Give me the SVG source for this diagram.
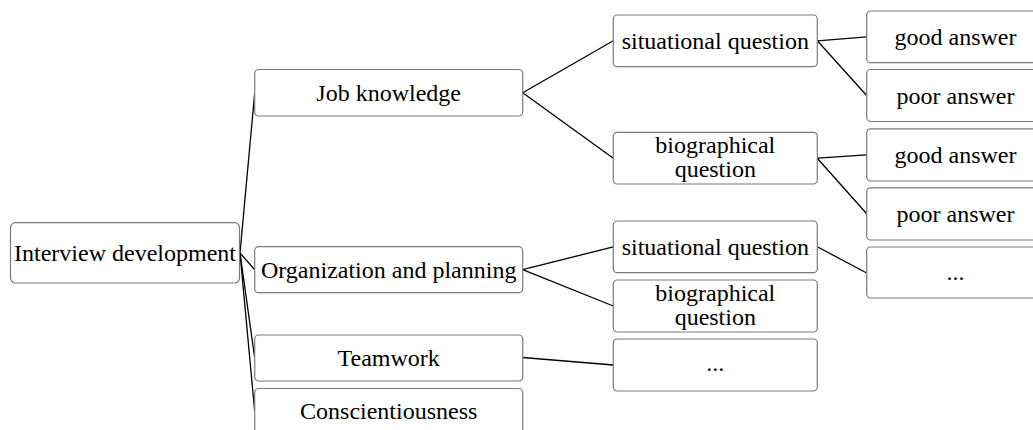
<svg xmlns="http://www.w3.org/2000/svg" width="1033" height="430" viewBox="0 0 1033 430">
  <style>
    .box { fill: #ffffff; stroke: #7a7a7a; stroke-width: 1.2; }
    .lbl { font-size: 24px; fill: #000000; text-anchor: middle; }
    .link { stroke: #000000; stroke-width: 1.3; fill: none; }
  </style>
  <rect width="1033" height="430" fill="#ffffff"/>

  <!-- connectors -->
  <g id="connectors">
    <line class="link" x1="240" y1="253" x2="254.7" y2="93"/>
    <line class="link" x1="240" y1="253" x2="254.7" y2="269.7"/>
    <line class="link" x1="240" y1="253" x2="254.7" y2="358"/>
    <line class="link" x1="240" y1="253" x2="254.7" y2="411.5"/>

    <line class="link" x1="522.7" y1="92.7" x2="613.3" y2="40.8"/>
    <line class="link" x1="522.7" y1="92.7" x2="613.3" y2="158.2"/>
    <line class="link" x1="522.7" y1="269.7" x2="613.3" y2="246.8"/>
    <line class="link" x1="522.7" y1="269.7" x2="613.3" y2="306"/>
    <line class="link" x1="522.7" y1="357.5" x2="613.3" y2="365"/>

    <line class="link" x1="817.3" y1="40.8" x2="866.7" y2="36.8"/>
    <line class="link" x1="817.3" y1="40.8" x2="866.7" y2="95.5"/>
    <line class="link" x1="817.3" y1="158.2" x2="866.7" y2="154.8"/>
    <line class="link" x1="817.3" y1="158.2" x2="866.7" y2="213.8"/>
    <line class="link" x1="817.3" y1="246.8" x2="866.7" y2="273"/>
  </g>

  <g font-family="Liberation Serif, DejaVu Serif, serif">
  <!-- root -->
  <g id="interview-development">
    <rect class="box" x="10.5" y="222.7" width="229" height="60.3" rx="5"/>
    <text class="lbl" x="125" y="260.5">Interview development</text>
  </g>

  <!-- competencies -->
  <g id="job-knowledge">
    <rect class="box" x="254.7" y="69.5" width="268" height="46.5" rx="4"/>
    <text class="lbl" x="388.7" y="100.5">Job knowledge</text>
  </g>
  <g id="organization-planning">
    <rect class="box" x="254.7" y="246.7" width="268" height="46" rx="4"/>
    <text class="lbl" x="388.7" y="277.5">Organization and planning</text>
  </g>
  <g id="teamwork">
    <rect class="box" x="254.7" y="335" width="268" height="46" rx="4"/>
    <text class="lbl" x="388.7" y="366">Teamwork</text>
  </g>
  <g id="conscientiousness">
    <rect class="box" x="254.7" y="388.5" width="268" height="46.5" rx="4"/>
    <text class="lbl" x="388.7" y="419">Conscientiousness</text>
  </g>

  <!-- question types -->
  <g id="situational-1">
    <rect class="box" x="613.3" y="15" width="204" height="51.7" rx="4"/>
    <text class="lbl" x="715.3" y="48.5">situational question</text>
  </g>
  <g id="biographical-1">
    <rect class="box" x="613.3" y="132.3" width="204" height="51.7" rx="4"/>
    <text class="lbl" x="715.3" y="152.5">biographical</text>
    <text class="lbl" x="715.3" y="176.5">question</text>
  </g>
  <g id="situational-2">
    <rect class="box" x="613.3" y="221" width="204" height="51.7" rx="4"/>
    <text class="lbl" x="715.3" y="254.5">situational question</text>
  </g>
  <g id="biographical-2">
    <rect class="box" x="613.3" y="280" width="204" height="52" rx="4"/>
    <text class="lbl" x="715.3" y="300.5">biographical</text>
    <text class="lbl" x="715.3" y="324.5">question</text>
  </g>
  <g id="teamwork-questions">
    <rect class="box" x="613.3" y="339" width="204" height="52" rx="4"/>
    <text class="lbl" x="715.3" y="371">...</text>
  </g>

  <!-- answer examples -->
  <g id="good-answer-1">
    <rect class="box" x="866.7" y="11" width="178" height="51.7" rx="4"/>
    <text class="lbl" x="955.5" y="44.5">good answer</text>
  </g>
  <g id="poor-answer-1">
    <rect class="box" x="866.7" y="69.5" width="178" height="52" rx="4"/>
    <text class="lbl" x="955.5" y="103.5">poor answer</text>
  </g>
  <g id="good-answer-2">
    <rect class="box" x="866.7" y="128.8" width="178" height="52.2" rx="4"/>
    <text class="lbl" x="955.5" y="162.5">good answer</text>
  </g>
  <g id="poor-answer-2">
    <rect class="box" x="866.7" y="187.8" width="178" height="52.2" rx="4"/>
    <text class="lbl" x="955.5" y="221.5">poor answer</text>
  </g>
  <g id="more-answers">
    <rect class="box" x="866.7" y="247" width="178" height="51" rx="4"/>
    <text class="lbl" x="955.5" y="280">...</text>
  </g>
  </g>
</svg>
